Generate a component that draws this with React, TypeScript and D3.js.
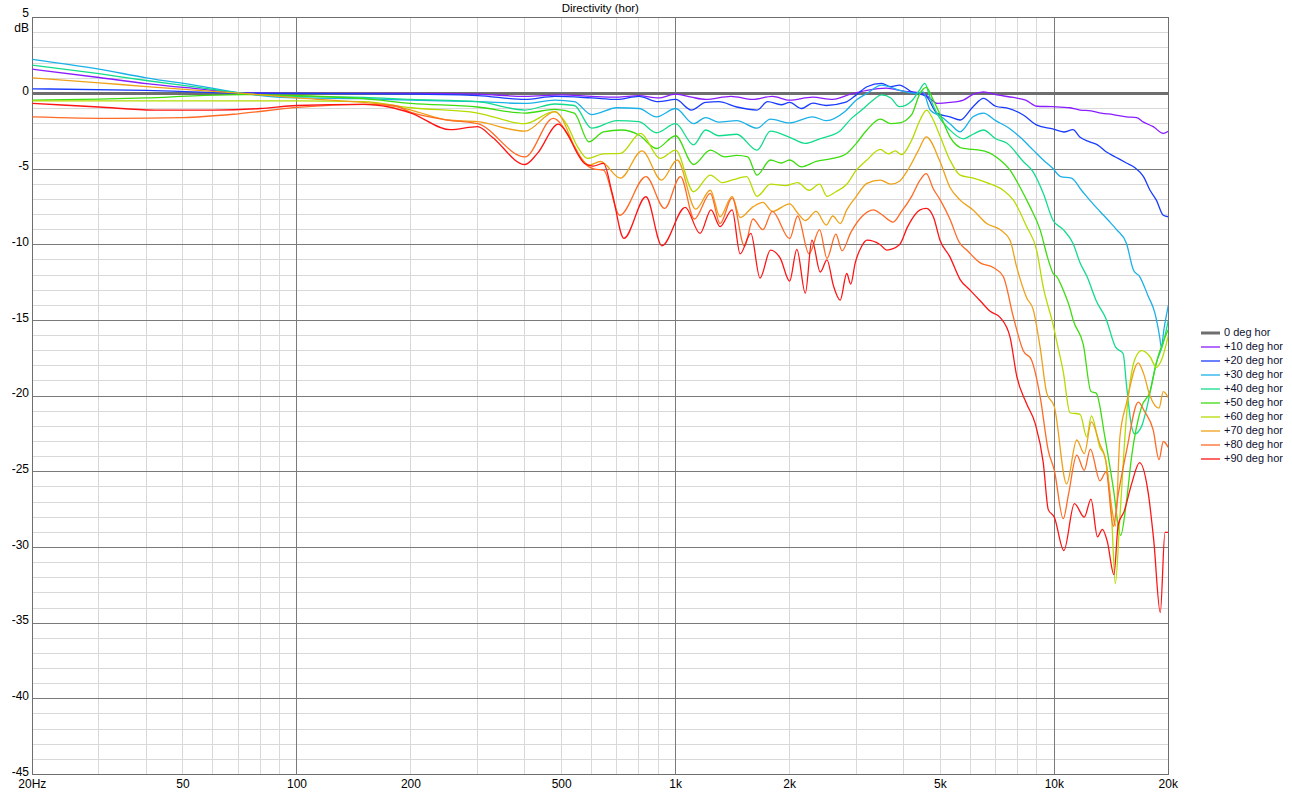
import React from "react";
import * as d3 from "d3";

// frequency response of a driver, horizontal off-axis angles (dB re on-axis)
const freqTicks = [20, 50, 100, 200, 500, 1000, 2000, 5000, 10000, 20000];
const freqTickLabels = ["20Hz", "50", "100", "200", "500", "1k", "2k", "5k", "10k", "20k"];
const dbTicks = [5, 0, -5, -10, -15, -20, -25, -30, -35, -40, -45];

const seriesNames = [
  "0 deg hor", "+10 deg hor", "+20 deg hor", "+30 deg hor", "+40 deg hor",
  "+50 deg hor", "+60 deg hor", "+70 deg hor", "+80 deg hor", "+90 deg hor",
];
const seriesColors = [
  "#6e6e6e", "#8a1cff", "#1a3cff", "#1ab0e8", "#12dc8c",
  "#3cdc10", "#b4dc00", "#f0a018", "#ff6a24", "#ff1414",
];

const deg0 = [[20, 0], [20000, 0]];

const deg10 = [
  [20, 1.6], [30, 1.05], [40, 0.65], [55, 0.3], [70, 0.05], [100, 0], [200, 0], [300, -0.05],
  [400, -0.2], [500, -0.1], [600, -0.2], [700, -0.25], [800, -0.15], [900, -0.3], [1000, -0.05],
  [1100, -0.25], [1200, -0.4], [1400, -0.2], [1600, -0.4], [1800, -0.2], [2000, -0.45], [2300, -0.25],
  [2600, -0.4], [2900, -0.05], [3200, 0.2], [3600, 0.35], [4000, 0.15], [4500, 0], [4700, -0.33],
  [4900, -0.66], [5300, -0.6], [5750, -0.44], [6100, -0.07], [6500, 0.1], [7050, -0.1], [7800, -0.27],
  [8400, -0.44], [9000, -0.85], [9900, -0.88], [11000, -0.95], [11700, -1.1], [12500, -1.15],
  [13300, -1.3], [14300, -1.4], [15500, -1.55], [16500, -1.6], [17200, -1.9], [18250, -2.2],
  [19400, -2.64], [20000, -2.5],
];

const deg20 = [
  [20, 0.3], [40, 0.2], [70, 0.02], [100, 0], [200, -0.05], [300, -0.15], [400, -0.4], [480, -0.2],
  [600, -0.3], [700, -0.4], [800, -0.2], [900, -0.55], [1000, -0.4], [1100, -1.1], [1200, -0.6],
  [1300, -0.55], [1450, -0.9], [1640, -1.1], [1750, -0.55], [1900, -0.75], [2000, -0.6], [2150, -1.0],
  [2300, -0.65], [2500, -0.8], [2800, -0.6], [3000, -0.1], [3200, 0.44], [3500, 0.66], [3700, 0.45],
  [3900, 0.55], [4200, 0.1], [4600, -0.22], [4900, -1.32], [5300, -1.55], [5640, -1.76], [6100, -0.88],
  [6500, -0.33], [7000, -0.85], [7600, -1.0], [8280, -1.43], [9000, -2.1], [9900, -2.35], [10600, -2.55],
  [11200, -2.4], [11700, -2.9], [12400, -3.2], [13000, -3.4], [13700, -3.86], [14500, -4.2],
  [15500, -4.6], [16300, -4.9], [17200, -5.5], [17900, -6.4], [18600, -7.05], [19400, -8.05],
  [20000, -8.15],
];

const deg30 = [
  [20, 2.25], [30, 1.6], [40, 1.03], [55, 0.5], [72, 0], [100, -0.3], [150, -0.35], [200, -0.45],
  [300, -0.55], [400, -0.66], [480, -0.45], [540, -0.55], [600, -1.4], [700, -0.95], [800, -1.0],
  [890, -1.55], [1000, -1.0], [1115, -2.0], [1200, -1.6], [1300, -1.9], [1450, -1.8], [1640, -2.3],
  [1780, -1.7], [2000, -1.95], [2300, -1.55], [2500, -1.8], [2800, -1.2], [3000, -0.44], [3200, 0],
  [3500, 0.55], [3900, 0.2], [4300, 0], [4500, 0.1], [4700, -1.1], [5000, -1.5], [5300, -2.0],
  [5640, -2.54], [6100, -1.55], [6500, -1.3], [7000, -1.8], [7600, -2.3], [8100, -2.87], [8800, -3.75],
  [9350, -4.4], [9900, -4.95], [10400, -5.5], [11100, -5.6], [11800, -6.4], [12400, -7.05],
  [13200, -7.8], [13900, -8.4], [14600, -9.0], [15500, -9.9], [16200, -11.7], [16800, -12.1],
  [17700, -13.4], [18430, -14.5], [18980, -16.1], [19160, -16.75], [19500, -15.5], [20000, -14.0],
];

const deg40 = [
  [20, 1.87], [30, 1.3], [40, 0.85], [55, 0.4], [72, 0], [100, -0.2], [150, -0.26], [200, -0.4],
  [300, -0.55], [400, -1.1], [480, -0.7], [540, -0.8], [600, -2.3], [700, -1.8], [800, -1.87],
  [890, -2.6], [1000, -2.0], [1115, -3.4], [1200, -2.42], [1300, -2.8], [1450, -2.7], [1640, -3.75],
  [1780, -2.5], [2000, -2.9], [2200, -3.3], [2400, -3.0], [2700, -2.54], [2900, -1.7], [3100, -1.1],
  [3300, -0.5], [3500, -0.1], [3700, -0.3], [3900, -0.88], [4200, -0.5], [4400, 0.2], [4550, 0.66],
  [4700, -0.3], [4900, -1.32], [5300, -2.42], [5750, -3.0], [6100, -2.7], [6500, -2.42], [7000, -3.0],
  [7500, -3.3], [8280, -4.5], [8800, -5.2], [9350, -6.6], [9930, -8.4], [10560, -9.0], [11200, -9.9],
  [11700, -11.2], [12200, -12.1], [12900, -13.7], [13700, -14.9], [14500, -16.75], [15200, -17.2],
  [15500, -19.2], [16000, -22.0], [16300, -22.5], [17000, -22.0], [17500, -20.9], [18600, -17.8],
  [19400, -16.5], [20000, -15.0],
];

const deg50 = [
  [20, -0.44], [30, -0.38], [40, -0.3], [55, -0.15], [72, -0.08], [100, -0.15], [150, -0.35],
  [200, -0.66], [300, -0.9], [400, -1.3], [480, -1.06], [540, -1.3], [590, -3.2], [645, -2.54],
  [720, -2.42], [800, -2.75], [890, -3.64], [1000, -2.8], [1115, -4.7], [1235, -3.75], [1350, -4.2],
  [1450, -4.1], [1550, -4.2], [1640, -5.4], [1780, -4.4], [1900, -4.6], [2000, -4.4], [2150, -4.85],
  [2350, -4.5], [2600, -4.3], [2830, -3.97], [3000, -3.3], [3200, -2.42], [3470, -1.7], [3700, -2.0],
  [3900, -1.95], [4200, -1.4], [4420, 0], [4590, 0.4], [4790, -0.44], [5000, -1.43], [5300, -2.87],
  [5750, -3.64], [6100, -3.7], [6630, -3.86], [7190, -4.4], [7640, -5.07], [8120, -6.2], [8630, -7.5],
  [9170, -9.0], [9640, -11.0], [9930, -11.9], [10150, -12.1], [10560, -13.0], [11000, -14.2],
  [11220, -15.0], [11930, -16.6], [12500, -19.7], [12900, -19.8], [13600, -22.7], [14300, -26.0],
  [14970, -29.2], [15500, -27.0], [16000, -24.0], [17000, -20.7], [17900, -19.7], [18600, -17.8],
  [20000, -15.6],
];

const deg60 = [
  [20, -0.5], [50, -0.5], [100, -0.5], [150, -0.55], [200, -0.95], [300, -1.3], [400, -2.0],
  [478, -1.2], [517, -2.1], [550, -3.5], [585, -4.3], [645, -4.0], [715, -3.97], [808, -2.64],
  [910, -4.3], [1000, -3.75], [1115, -6.5], [1235, -5.4], [1330, -5.9], [1420, -5.7], [1540, -5.5],
  [1640, -6.8], [1780, -6.0], [1950, -6.1], [2100, -5.9], [2250, -6.4], [2400, -6.0], [2510, -6.8],
  [2650, -6.5], [2830, -6.0], [3000, -5.07], [3200, -4.4], [3470, -3.7], [3650, -4.0], [3800, -3.8],
  [3950, -4.05], [4200, -3.1], [4420, -1.76], [4600, -1.1], [4790, -1.76], [5000, -2.87], [5300, -4.4],
  [5640, -5.4], [6110, -5.6], [6630, -5.9], [7330, -6.4], [7800, -7.05], [8450, -8.8], [8980, -10.35],
  [9350, -12.8], [9930, -15.3], [10150, -16.4], [10560, -18.4], [11000, -21.1], [11700, -21.2],
  [12180, -22.7], [12530, -21.3], [13200, -23.4], [13600, -24.0], [14170, -28.0], [14490, -32.4],
  [14900, -28.0], [15500, -21.4], [16300, -17.6], [17000, -17.0], [17900, -17.4], [18600, -18.1],
  [19200, -17.6], [20000, -16.0],
];

const deg70 = [
  [20, 1.03], [30, 0.7], [40, 0.45], [55, 0.2], [72, 0], [100, -0.3], [150, -0.6], [166, -0.7],
  [200, -1.1], [250, -1.76], [300, -1.87], [400, -2.5], [480, -1.2], [560, -4.2], [590, -4.74],
  [633, -4.5], [715, -5.6], [815, -3.8], [918, -5.73], [1010, -4.4], [1130, -7.65], [1235, -6.4],
  [1310, -8.15], [1410, -6.8], [1480, -8.2], [1600, -7.5], [1700, -7.2], [1800, -7.8], [2000, -7.3],
  [2100, -7.9], [2200, -8.4], [2350, -7.8], [2500, -8.7], [2600, -8.1], [2720, -8.6], [2830, -7.7],
  [3000, -6.8], [3200, -5.95], [3470, -5.73], [3700, -6.0], [3900, -5.8], [4100, -5.07], [4380, -3.75],
  [4590, -2.87], [4990, -4.5], [5300, -6.2], [5640, -7.05], [6100, -7.7], [6630, -8.6], [7190, -9.0],
  [7640, -9.7], [7960, -11.5], [8450, -13.5], [8800, -14.3], [9170, -16.75], [9550, -19.8],
  [10000, -20.7], [10780, -25.8], [11460, -22.9], [12000, -23.8], [12530, -21.7], [13200, -23.2],
  [13600, -24.0], [14310, -28.0], [14490, -28.6], [14900, -22.7], [15500, -20.5], [16660, -17.8],
  [17200, -18.5], [17900, -20.0], [18900, -20.8], [19400, -19.7], [20000, -20.1],
];

const deg80 = [
  [20, -1.55], [33, -1.65], [50, -1.6], [70, -1.35], [100, -0.93], [150, -0.72], [180, -0.8],
  [200, -1.25], [250, -1.76], [300, -2.0], [400, -4.2], [475, -1.65], [540, -3.5], [570, -4.5],
  [610, -5.0], [645, -5.07], [712, -8.05], [835, -5.5], [935, -7.6], [1030, -5.5], [1120, -8.3],
  [1235, -6.6], [1310, -8.6], [1410, -6.9], [1520, -10.1], [1600, -8.3], [1700, -9.0], [1800, -7.8],
  [2000, -9.6], [2100, -8.1], [2250, -10.6], [2400, -9.0], [2510, -10.9], [2650, -9.3], [2750, -10.4],
  [2900, -9.2], [3100, -8.15], [3330, -7.7], [3500, -8.0], [3750, -8.5], [3950, -7.8], [4200, -6.8],
  [4420, -5.73], [4590, -5.3], [4790, -6.3], [5000, -7.05], [5300, -8.3], [5600, -9.8], [5900, -10.4],
  [6370, -11.2], [6900, -11.5], [7330, -12.1], [7800, -14.8], [8280, -17.0], [8700, -17.6],
  [9170, -20.0], [9640, -23.6], [10000, -24.9], [10560, -28.1], [10900, -26.5], [11460, -23.9],
  [12000, -24.9], [12450, -23.5], [13200, -25.6], [13700, -25.0], [14310, -28.6], [14750, -26.5],
  [15520, -23.6], [16660, -20.4], [17300, -21.0], [18250, -22.25], [18900, -24.2], [19400, -23.0],
  [20000, -23.4],
];

const deg90 = [
  [20, -0.66], [30, -0.9], [42, -1.1], [60, -1.1], [80, -1.0], [100, -0.8], [150, -0.72], [175, -0.9],
  [200, -1.3], [254, -2.4], [300, -2.2], [328, -2.9], [400, -4.7], [432, -3.95], [490, -2.03],
  [517, -2.64], [550, -3.97], [575, -4.63], [605, -4.8], [645, -4.63], [680, -6.6], [730, -9.58],
  [835, -6.83], [920, -10.07], [1060, -7.53], [1160, -9.25], [1240, -7.7], [1310, -8.8], [1410, -7.7],
  [1480, -10.6], [1580, -9.25], [1670, -12.2], [1780, -10.35], [1890, -10.9], [2000, -12.4],
  [2090, -10.3], [2200, -13.2], [2290, -9.7], [2410, -11.8], [2510, -11.0], [2610, -12.7],
  [2720, -13.66], [2830, -11.9], [2900, -12.6], [2980, -11.2], [3100, -10.1], [3200, -9.7],
  [3470, -10.0], [3610, -10.35], [3900, -10.0], [4100, -8.8], [4420, -7.7], [4590, -7.6], [4800, -8.2],
  [4990, -9.7], [5300, -10.8], [5640, -12.3], [5990, -13.0], [6370, -13.7], [6770, -14.4],
  [7190, -14.8], [7640, -16.1], [7960, -18.7], [8450, -20.5], [8900, -21.8], [9350, -24.4],
  [9640, -27.5], [10000, -28.0], [10600, -30.2], [11300, -27.1], [12000, -28.0], [12500, -26.8],
  [13000, -29.3], [13400, -28.8], [13800, -29.6], [14370, -31.8], [14750, -28.5], [15300, -27.6],
  [16000, -25.8], [16800, -24.4], [17700, -26.4], [18300, -29.5], [19050, -34.3], [19600, -29.0],
  [20000, -29.0],
];

const seriesData = [deg0, deg10, deg20, deg30, deg40, deg50, deg60, deg70, deg80, deg90];

const W = 1292;
const H = 793;
const plot = { left: 32.3, right: 1168.3, top: 17.7, bottom: 774.5 };
const font = "'Liberation Sans', Arial, sans-serif";

const App = () => {
  const x = d3.scaleLog().domain([20, 20000]).range([plot.left, plot.right]);
  const y = d3.scaleLinear().domain([-45, 5]).range([plot.bottom, plot.top]);

  const line = d3
    .line<number[]>()
    .x((d) => x(d[0]))
    .y((d) => y(d[1]))
    .curve(d3.curveMonotoneX);

  // grid
  const minorX: number[] = [];
  [10, 100, 1000, 10000].forEach((base) => {
    for (let m = 2; m <= 9; m++) {
      const v = base * m;
      if (v > 20 && v < 20000) minorX.push(v);
    }
  });
  const majorX = [100, 1000, 10000];
  const minorY = d3.range(-44, 5, 1).filter((v) => v % 5 !== 0);
  const majorY = dbTicks.filter((v) => v > -45 && v < 5);

  return (
    <svg
      width={W}
      height={H}
      style={{ position: "absolute", left: 0, top: 0, background: "#fff" }}
    >
      <defs>
        <clipPath id="plotClip">
          <rect x={plot.left} y={plot.top} width={plot.right - plot.left} height={plot.bottom - plot.top} />
        </clipPath>
      </defs>

      <text x={(plot.left + plot.right) / 2} y={12} textAnchor="middle" fontFamily={font} fontSize={11.5} fill="#000">
        Directivity (hor)
      </text>

      <g shapeRendering="crispEdges">
        {minorY.map((v) => (
          <line key={"my" + v} x1={plot.left} x2={plot.right} y1={y(v)} y2={y(v)} stroke="#d9d9d9" />
        ))}
        {minorX.map((v) => (
          <line key={"mx" + v} x1={x(v)} x2={x(v)} y1={plot.top} y2={plot.bottom} stroke="#d9d9d9" />
        ))}
        {majorY.map((v) => (
          <line key={"Y" + v} x1={plot.left} x2={plot.right} y1={y(v)} y2={y(v)} stroke="#7a7a7a" />
        ))}
        {majorX.map((v) => (
          <line key={"X" + v} x1={x(v)} x2={x(v)} y1={plot.top} y2={plot.bottom} stroke="#7a7a7a" />
        ))}
        <rect
          x={plot.left}
          y={plot.top}
          width={plot.right - plot.left}
          height={plot.bottom - plot.top}
          fill="none"
          stroke="#6e6e6e"
        />
      </g>

      <g clipPath="url(#plotClip)" fill="none">
        {seriesData.map((s, i) => (
          <path
            key={seriesNames[i]}
            d={line(s as number[][]) || ""}
            stroke={seriesColors[i]}
            strokeWidth={i === 0 ? 3 : 1.3}
            strokeLinejoin="round"
          />
        ))}
      </g>

      {/* y axis labels */}
      <g fontFamily={font} fontSize={12} fill="#000" textAnchor="end">
        {dbTicks.map((v) => (
          <text key={"yl" + v} x={29} y={v === 5 ? y(v) - 4 : y(v) - 2} dominantBaseline="middle">
            {v}
          </text>
        ))}
        <text x={29} y={28.5} dominantBaseline="middle">
          dB
        </text>
      </g>

      {/* x axis labels */}
      <g fontFamily={font} fontSize={12} fill="#000" textAnchor="middle">
        {freqTicks.map((v, i) => (
          <text key={"xl" + v} x={x(v)} y={785} dominantBaseline="middle">
            {freqTickLabels[i]}
          </text>
        ))}
      </g>

      {/* legend */}
      <g fontFamily={font} fontSize={11} fill="#101030">
        {seriesNames.map((n, i) => (
          <g key={"lg" + n} transform={`translate(1201, ${333 + i * 14})`}>
            <line x1={0} x2={19} y1={0} y2={0} stroke={seriesColors[i]} strokeWidth={i === 0 ? 3 : 1.3} />
            <text x={23} y={0} dominantBaseline="middle">
              {n}
            </text>
          </g>
        ))}
      </g>
    </svg>
  );
};

export default App;
